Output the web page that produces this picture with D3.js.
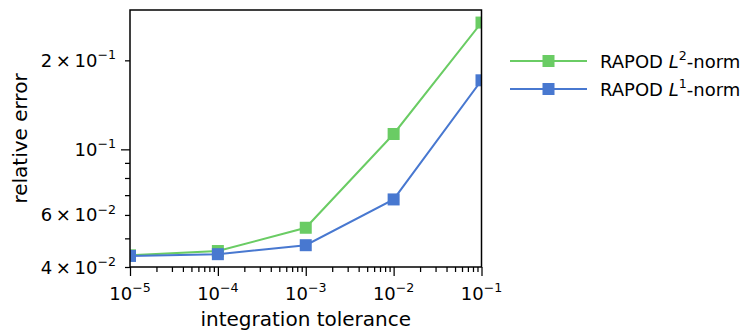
<!DOCTYPE html>
<html>
<head>
<meta charset="utf-8">
<script src="https://cdn.jsdelivr.net/npm/d3@7"></script>
<style>
  html, body { margin: 0; padding: 0; background: #fff; }
  svg { display: block; font-family: "DejaVu Sans", sans-serif; }
</style>
</head>
<body>
<svg id="chart" width="749" height="334"></svg>
<script>
// Integration tolerance (x) and relative error of each RAPOD variant
const tolerances = [1e-5, 1e-4, 1e-3, 1e-2, 1e-1];
const errorL2 = [0.0438, 0.0453, 0.0543, 0.1127, 0.2684];
const errorL1 = [0.0436, 0.0442, 0.0474, 0.0677, 0.1712];

const seriesNames = ["L2", "L1"];
const seriesColors = ["#6acc64", "#4878d0"];
const xTickExps = [-5, -4, -3, -2, -1];
// labelled y ticks: [mantissa, exponent]
const yTickLabels = [[2, -1], [1, -1], [6, -2], [4, -2]];
const yMinorTicks = [0.05, 0.07, 0.08, 0.09];

const svg = d3.select("#chart");
const plotLeft = 130, plotRight = 481.5, plotTop = 10, plotBottom = 267;

const x = d3.scaleLog().domain([1e-5, 1e-1]).range([plotLeft, plotRight]);
const y = d3.scaleLog().domain([0.04, 0.296]).range([plotBottom, plotTop]);

const FS = 18;

// Superscripted "m × 10^e" / "10^e" labels
function powLabel(sel, mant, exp) {
  sel.text(null);
  const pre = (mant === 1 ? "10" : mant + "\u2009\u00d7\u200910");
  sel.append("tspan").text(pre);
  sel.append("tspan")
    .attr("font-size", FS * 0.7)
    .attr("dy", -FS * 0.42)
    .text("\u2212" + Math.abs(exp));
}

// Clip region for data marks
svg.append("defs").append("clipPath").attr("id", "plotclip")
  .append("rect").attr("x", plotLeft).attr("y", plotTop)
  .attr("width", plotRight - plotLeft).attr("height", plotBottom - plotTop);

// X axis: major decades + minor ticks
const xMinor = [];
for (let e = -5; e < -1; e++) for (let m = 2; m <= 9; m++) xMinor.push(m * Math.pow(10, e));
const xAxisMajor = d3.axisBottom(x).tickValues(tolerances).tickSize(9).tickFormat("");
const xAxisMinor = d3.axisBottom(x).tickValues(xMinor).tickSize(5).tickFormat("");
[xAxisMajor, xAxisMinor].forEach(ax => {
  const g = svg.append("g").attr("transform", `translate(0,${plotBottom})`).call(ax);
  g.select(".domain").remove();
  g.selectAll("line").attr("stroke", "#000").attr("stroke-width", 1.25);
});
svg.append("g").selectAll("text").data(xTickExps).join("text")
  .attr("x", d => x(Math.pow(10, d)))
  .attr("y", 300)
  .attr("text-anchor", "middle")
  .attr("font-size", FS)
  .attr("fill", "#000")
  .each(function(d) { powLabel(d3.select(this), 1, d); });

// Y axis: labelled ticks + minor ticks
const yMajorVals = [0.1];
const yLabelVals = yTickLabels.map(d => d[0] * Math.pow(10, d[1]));
const yAxisMajor = d3.axisLeft(y).tickValues(yMajorVals).tickSize(9).tickFormat("");
const yAxisMinor = d3.axisLeft(y).tickValues(yLabelVals.filter(v => v !== 0.1).concat(yMinorTicks)).tickSize(5).tickFormat("");
[yAxisMajor, yAxisMinor].forEach(ax => {
  const g = svg.append("g").attr("transform", `translate(${plotLeft},0)`).call(ax);
  g.select(".domain").remove();
  g.selectAll("line").attr("stroke", "#000").attr("stroke-width", 1.25);
});
svg.append("g").selectAll("text").data(yTickLabels).join("text")
  .attr("x", 116)
  .attr("y", d => y(d[0] * Math.pow(10, d[1])) + 6.5)
  .attr("text-anchor", "end")
  .attr("font-size", FS)
  .attr("fill", "#000")
  .each(function(d) { powLabel(d3.select(this), d[0], d[1]); });

// Series lines and square markers
const series = [errorL2, errorL1];
const line = d3.line().x(d => x(d[0])).y(d => y(d[1]));
const plot = svg.append("g").attr("clip-path", "url(#plotclip)");
series.forEach((vals, i) => {
  const pts = tolerances.map((t, j) => [t, vals[j]]);
  plot.append("path").datum(pts)
    .attr("d", line)
    .attr("fill", "none")
    .attr("stroke", seriesColors[i])
    .attr("stroke-width", 2);
  plot.selectAll(null).data(pts).join("rect")
    .attr("x", d => x(d[0]) - 6)
    .attr("y", d => y(d[1]) - 6)
    .attr("width", 12).attr("height", 12)
    .attr("fill", seriesColors[i]);
});

// Axes frame
svg.append("rect")
  .attr("x", plotLeft).attr("y", plotTop)
  .attr("width", plotRight - plotLeft).attr("height", plotBottom - plotTop)
  .attr("fill", "none").attr("stroke", "#000").attr("stroke-width", 1.5);

// Axis titles
svg.append("text")
  .attr("x", (plotLeft + plotRight) / 2).attr("y", 326)
  .attr("text-anchor", "middle").attr("font-size", 20)
  .text("integration tolerance");
svg.append("text")
  .attr("transform", `translate(27,${(plotTop + plotBottom) / 2}) rotate(-90)`)
  .attr("text-anchor", "middle").attr("font-size", 20)
  .text("relative error");

// Legend
const legendY = [61, 89];
const legend = svg.append("g");
seriesNames.forEach((name, i) => {
  const ly = legendY[i];
  legend.append("line")
    .attr("x1", 510).attr("x2", 587).attr("y1", ly).attr("y2", ly)
    .attr("stroke", seriesColors[i]).attr("stroke-width", 2);
  legend.append("rect")
    .attr("x", 548.5 - 6).attr("y", ly - 6).attr("width", 12).attr("height", 12)
    .attr("fill", seriesColors[i]);
  const t = legend.append("text")
    .attr("x", 600).attr("y", ly + 6.5)
    .attr("font-size", FS);
  t.append("tspan").text("RAPOD ");
  t.append("tspan").attr("font-style", "italic").text("L");
  t.append("tspan").attr("font-size", FS * 0.7).attr("dy", -FS * 0.42).text(name.slice(1));
  t.append("tspan").attr("dy", FS * 0.42).text("-norm");
});
</script>
</body>
</html>
